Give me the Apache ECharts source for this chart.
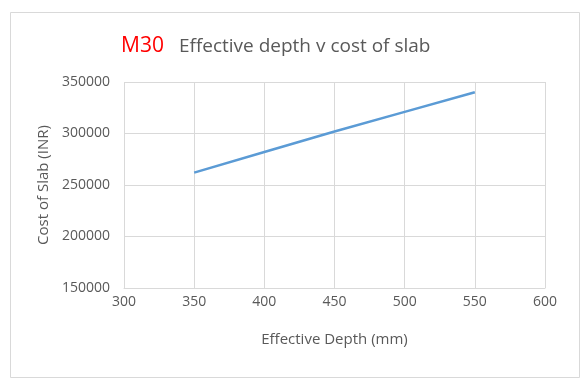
<!DOCTYPE html>
<html>
<head>
<meta charset="utf-8">
<script src="https://cdn.jsdelivr.net/npm/echarts@6/dist/echarts.min.js"></script>
<style>
  html, body { margin: 0; padding: 0; background: #fff; }
  #chart { width: 586px; height: 390px; }
</style>
</head>
<body>
<div id="chart"></div>
<script>
// effective depth (mm) vs cost of slab (INR), M30 concrete
const depths = [350, 400, 450, 500, 550];
const costs = [262000, 282000, 302000, 321000, 340000];

const chartDom = document.getElementById('chart');
const myChart = echarts.init(chartDom);

const font = '"Open Sans", "Noto Sans", sans-serif';
const grey = '#595959';

const option = {
    animation: false,
    backgroundColor: '#fff',
    title: {
        text: '{a|M30}   {b|Effective depth v cost of slab}',
        left: 116,
        top: 31,
        textStyle: {
            fontWeight: 'normal',
            rich: {
                a: { color: '#ff0000', fontSize: 21, fontWeight: 'normal', fontFamily: font },
                b: { color: grey, fontSize: 19, fontWeight: 'normal', fontFamily: font }
            }
        }
    },
    graphic: [{
        type: 'rect',
        shape: { x: 10.5, y: 12.5, width: 569, height: 365 },
        style: { fill: 'none', stroke: '#d9d9d9', lineWidth: 1 },
        silent: true
    }],
    grid: { left: 124, right: 41, top: 82, bottom: 102 },
    xAxis: {
        type: 'value',
        min: 300,
        max: 600,
        interval: 50,
        name: 'Effective Depth (mm)',
        nameLocation: 'middle',
        nameGap: 44,
        nameTextStyle: { color: grey, fontSize: 15, fontFamily: font },
        axisLine: { show: true, lineStyle: { color: '#d9d9d9' } },
        axisTick: { show: false },
        axisLabel: { color: grey, fontSize: 14, fontFamily: font, margin: 7 },
        splitLine: { show: true, lineStyle: { color: '#d9d9d9' } }
    },
    yAxis: {
        type: 'value',
        min: 150000,
        max: 350000,
        interval: 50000,
        name: 'Cost of Slab (INR)',
        nameLocation: 'middle',
        nameGap: 67,
        nameTextStyle: { color: grey, fontSize: 15, fontFamily: font },
        axisLine: { show: false },
        axisTick: { show: false },
        axisLabel: { color: grey, fontSize: 14, fontFamily: font, margin: 14, formatter: v => String(v) },
        splitLine: { show: true, lineStyle: { color: '#d9d9d9' } }
    },
    series: [{
        type: 'line',
        data: depths.map((d, i) => [d, costs[i]]),
        showSymbol: false,
        lineStyle: { color: '#5b9bd5', width: 2.5 },
        itemStyle: { color: '#5b9bd5' }
    }]
};

option && myChart.setOption(option);
</script>
</body>
</html>
